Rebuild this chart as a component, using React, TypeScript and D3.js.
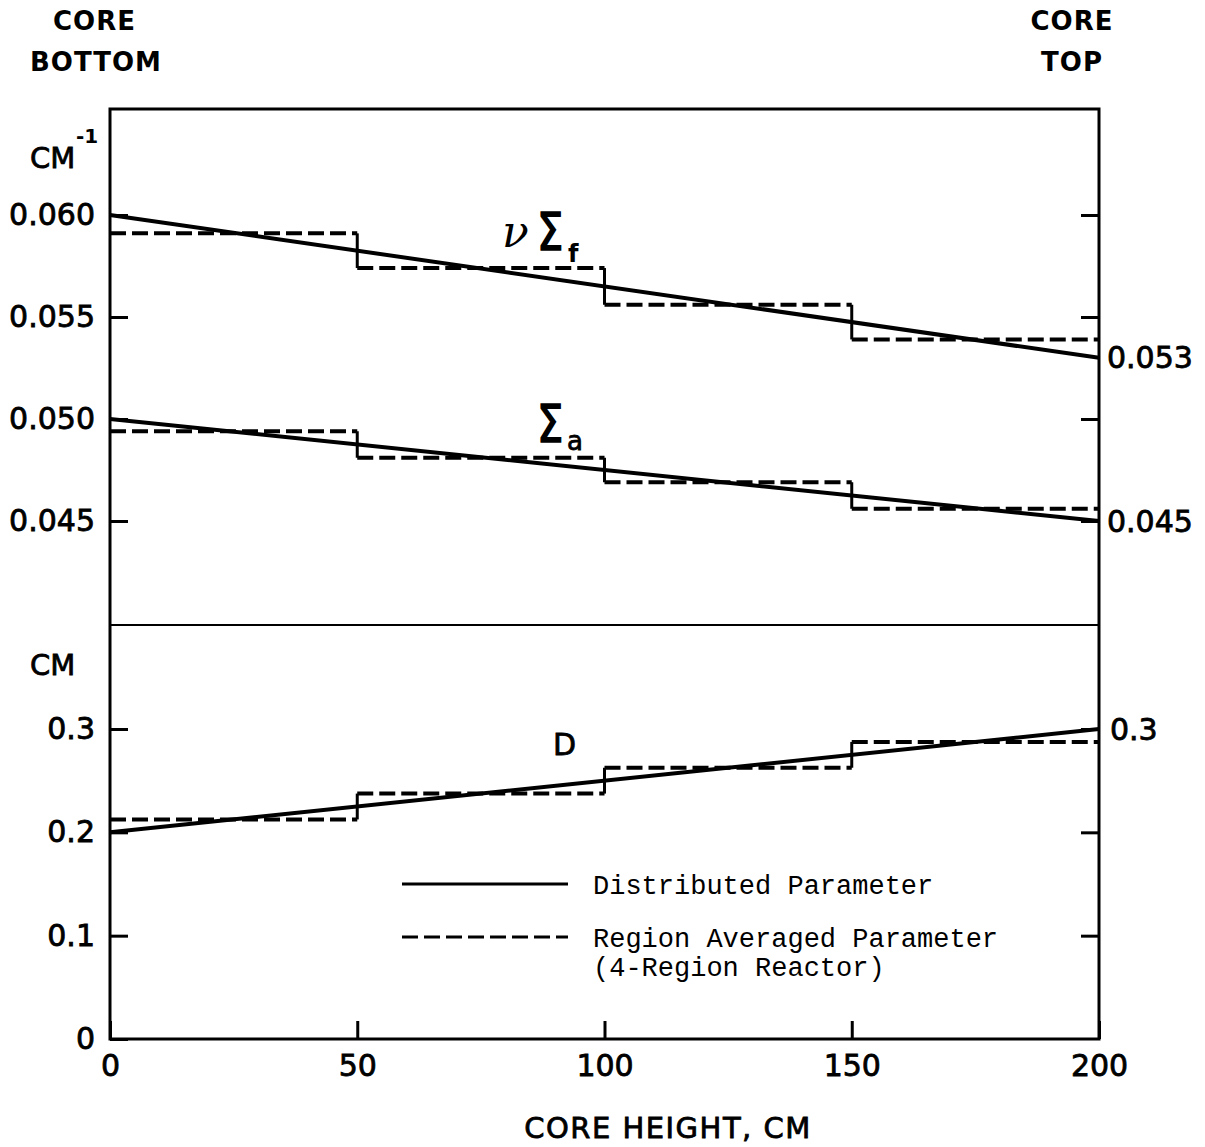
import React, { useEffect, useRef } from 'react'
import * as d3 from 'd3'

// distributed parameters (linear along core height)
const coreHeight = [0, 200]
const nuSigmaF = [0.060, 0.053]
const sigmaA = [0.050, 0.045]
const diffCoef = [0.2, 0.3]

// 4-region averaged parameters
const regionEdges = [0, 50, 100, 150, 200]
const nuSigmaFAvg = [0.0591, 0.0574, 0.0556, 0.0539]
const sigmaAAvg = [0.0494, 0.0481, 0.0469, 0.0456]
const diffCoefAvg = [0.2125, 0.2375, 0.2625, 0.2875]

// ticks
const xTicks = [0, 50, 100, 150, 200]
const upperTicks = [0.060, 0.055, 0.050, 0.045]
const lowerTicks = [0, 0.1, 0.2, 0.3]
const lowerRightTicks = [0.1, 0.2, 0.3]
const upperRightLabels = [0.053, 0.045]
const lowerRightLabels = [0.3]

const W = 1205
const H = 1147
const left = 110
const right = 1099
const top = 109
const mid = 625
const bottom = 1039
const FONT = 'DejaVu Sans, sans-serif'

function App() {
  const plotRef = useRef<SVGGElement>(null)

  useEffect(() => {
    const svg = d3.select(plotRef.current)
    svg.selectAll('*').remove()

    const x = d3.scaleLinear().domain([0, 200]).range([left, right])
    const yUp = d3.scaleLinear().domain([0.045, 0.060]).range([521, 215])
    const yLow = d3.scaleLinear().domain([0, 0.3]).range([bottom, 729])

    // frame
    svg.append('rect')
      .attr('x', left).attr('y', top)
      .attr('width', right - left).attr('height', bottom - top)
      .attr('fill', 'none').attr('stroke', '#000').attr('stroke-width', 3)
    svg.append('line')
      .attr('x1', left).attr('x2', right).attr('y1', mid).attr('y2', mid)
      .attr('stroke', '#000').attr('stroke-width', 2)

    const styleAxis = (g: any) => {
      g.select('.domain').remove()
      g.selectAll('line').attr('stroke', '#000').attr('stroke-width', 3)
      g.selectAll('text').attr('font-family', FONT).attr('font-size', 30).attr('fill', '#000')
        .attr('stroke', '#000').attr('stroke-width', 0.8)
    }

    svg.append('g').attr('transform', `translate(${left},0)`)
      .call(d3.axisLeft(yUp).tickValues(upperTicks).tickSize(-18).tickPadding(15).tickFormat(d3.format('.3f')))
      .call(styleAxis)
    svg.append('g').attr('transform', `translate(${left},0)`)
      .call(d3.axisLeft(yLow).tickValues(lowerTicks).tickSize(-18).tickPadding(15)
        .tickFormat((d: any) => (d === 0 ? '0' : d3.format('.1f')(d))))
      .call(styleAxis)
    svg.append('g').attr('transform', `translate(${right},0)`)
      .call(d3.axisRight(yUp).tickValues(upperTicks).tickSize(-18).tickFormat(() => ''))
      .call(styleAxis)
    svg.append('g').attr('transform', `translate(${right},0)`)
      .call(d3.axisRight(yLow).tickValues(lowerRightTicks).tickSize(-18).tickFormat(() => ''))
      .call(styleAxis)
    svg.append('g').attr('transform', `translate(0,${bottom})`)
      .call(d3.axisBottom(x).tickValues(xTicks).tickSize(-18).tickPadding(16).tickFormat(d3.format('d')))
      .call(styleAxis)

    // right side value labels
    upperRightLabels.forEach(v => {
      svg.append('text').attr('x', right + 8).attr('y', yUp(v)).attr('dy', '0.35em')
        .attr('font-family', FONT).attr('font-size', 30)
        .attr('stroke', '#000').attr('stroke-width', 0.8)
        .text(d3.format('.3f')(v))
    })
    lowerRightLabels.forEach(v => {
      svg.append('text').attr('x', right + 11).attr('y', yLow(v)).attr('dy', '0.35em')
        .attr('font-family', FONT).attr('font-size', 30)
        .attr('stroke', '#000').attr('stroke-width', 0.8)
        .text(d3.format('.1f')(v))
    })

    // distributed lines
    const drawLine = (vals: number[], y: any) => {
      svg.append('path')
        .datum(coreHeight.map((h, i) => [h, vals[i]]))
        .attr('d', d3.line<number[]>().x(d => x(d[0])).y(d => y(d[1])))
        .attr('fill', 'none').attr('stroke', '#000').attr('stroke-width', 4)
    }
    drawLine(nuSigmaF, yUp)
    drawLine(sigmaA, yUp)
    drawLine(diffCoef, yLow)

    // region averaged steps
    const drawSteps = (vals: number[], y: any) => {
      vals.forEach((v, i) => {
        svg.append('line')
          .attr('x1', x(regionEdges[i])).attr('x2', x(regionEdges[i + 1]))
          .attr('y1', y(v)).attr('y2', y(v))
          .attr('stroke', '#000').attr('stroke-width', 4).attr('stroke-dasharray', '16 6')
        if (i > 0) {
          svg.append('line')
            .attr('x1', x(regionEdges[i])).attr('x2', x(regionEdges[i]))
            .attr('y1', y(vals[i - 1])).attr('y2', y(v))
            .attr('stroke', '#000').attr('stroke-width', 3)
        }
      })
    }
    drawSteps(nuSigmaFAvg, yUp)
    drawSteps(sigmaAAvg, yUp)
    drawSteps(diffCoefAvg, yLow)

    // legend
    const legend = [
      { y: 884, dash: null, lines: ['Distributed Parameter'] },
      { y: 937, dash: '16 6', lines: ['Region Averaged Parameter', '(4-Region Reactor)'] },
    ]
    legend.forEach(l => {
      const ln = svg.append('line').attr('x1', 402).attr('x2', 568).attr('y1', l.y).attr('y2', l.y)
        .attr('stroke', '#000').attr('stroke-width', 3)
      if (l.dash) ln.attr('stroke-dasharray', l.dash)
      l.lines.forEach((t, j) => {
        svg.append('text').attr('x', 593).attr('y', l.y + 10 + j * 29)
          .attr('font-family', 'Liberation Mono, monospace').attr('font-size', 27).text(t)
      })
    })
  }, [])

  return (
    <svg width={W} height={H}
      style={{ position: 'absolute', left: 0, top: 0, background: '#fff' }}>
      <g ref={plotRef} />
      <g fontFamily={FONT} fill="#000">
        <text x={53} y={30} fontSize={26} fontWeight="bold" letterSpacing={1}>CORE</text>
        <text x={30} y={71} fontSize={26} fontWeight="bold" letterSpacing={1}>BOTTOM</text>
        <text x={1072} y={30} fontSize={26} fontWeight="bold" letterSpacing={1} textAnchor="middle">CORE</text>
        <text x={1072} y={71} fontSize={26} fontWeight="bold" letterSpacing={1} textAnchor="middle">TOP</text>
        <g stroke="#000" strokeWidth={0.8}>
          <text x={30} y={168} fontSize={29}>CM</text>
          <text x={30} y={675} fontSize={29}>CM</text>
          <text x={668} y={1138} fontSize={29} letterSpacing={1.5} textAnchor="middle">CORE HEIGHT, CM</text>
          <text x={553} y={755} fontSize={30}>D</text>
          <text x={567} y={450} fontSize={26}>a</text>
        </g>
        <text x={76} y={143} fontSize={20} fontWeight="bold">-1</text>
        <text x={502} y={247} fontSize={44} fontStyle="italic" fontFamily="DejaVu Serif, serif">ν</text>
        <text transform="translate(537,250) scale(0.8,1)" fontSize={52} stroke="#000" strokeWidth={1.6}>Σ</text>
        <text x={568} y={262} fontSize={24} fontWeight="bold">f</text>
        <text transform="translate(537,442) scale(0.8,1)" fontSize={52} stroke="#000" strokeWidth={1.6}>Σ</text>
      </g>
    </svg>
  )
}

export default App
